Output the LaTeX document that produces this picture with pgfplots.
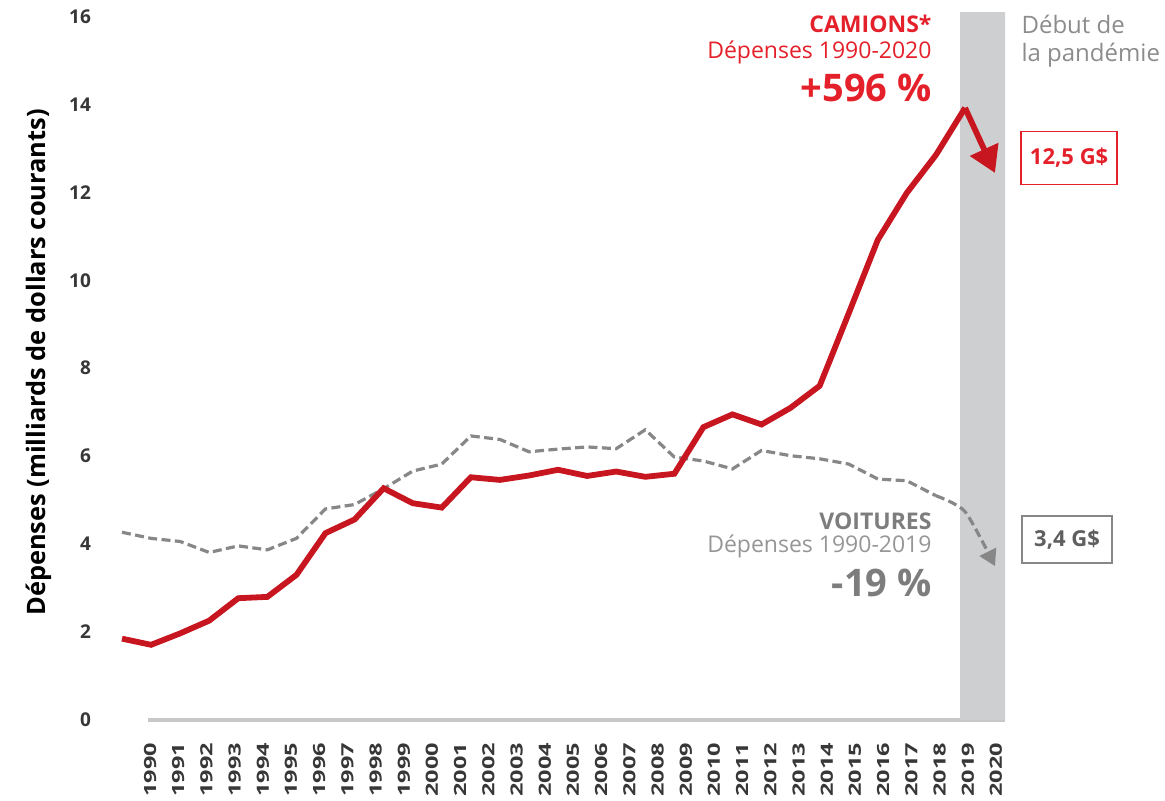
\documentclass[border=0pt]{standalone}
\usepackage{fontspec}
\setmainfont{Open Sans}
\usepackage{graphicx}
\usepackage{pgfplots}
\pgfplotsset{compat=1.18}
\usetikzlibrary{arrows.meta}

\definecolor{camred}{RGB}{200,22,32}
\definecolor{txtred}{RGB}{228,32,42}
\definecolor{cargray}{RGB}{135,135,135}
\definecolor{cartxt}{RGB}{125,125,125}
\definecolor{carlight}{RGB}{150,150,150}
\definecolor{bandgray}{RGB}{206,207,209}
\definecolor{axgray}{RGB}{200,200,200}
\definecolor{tickcol}{RGB}{55,55,55}
\definecolor{pandtxt}{RGB}{140,140,140}

\pgfplotstableread{
year val
1990 1.85
1991 1.71
1992 1.97
1993 2.26
1994 2.77
1995 2.80
1996 3.30
1997 4.25
1998 4.56
1999 5.27
2000 4.93
2001 4.83
2002 5.52
2003 5.46
2004 5.56
2005 5.69
2006 5.55
2007 5.65
2008 5.53
2009 5.60
2010 6.66
2011 6.95
2012 6.72
2013 7.10
2014 7.60
2015 9.25
2016 10.92
2017 11.99
2018 12.85
2019 13.92
}\camions

\pgfplotstableread{
year val
1990 4.27
1991 4.13
1992 4.06
1993 3.81
1994 3.96
1995 3.87
1996 4.13
1997 4.80
1998 4.90
1999 5.26
2000 5.66
2001 5.82
2002 6.46
2003 6.38
2004 6.10
2005 6.16
2006 6.21
2007 6.17
2008 6.60
2009 5.98
2010 5.89
2011 5.71
2012 6.13
2013 6.01
2014 5.94
2015 5.82
2016 5.48
2017 5.44
2018 5.10
}\voitures

\begin{document}
\begin{tikzpicture}
\begin{axis}[
  scale only axis,
  width=428.5pt, height=354pt,
  xmin=1990.894, xmax=2020.375,
  ymin=0, ymax=16.1,
  axis x line=bottom, axis y line=left,
  axis line style={-},
  x axis line style={draw=axgray, line width=2pt},
  y axis line style={draw=none},
  major tick length=0pt,
  tick style={draw=none},
  ytick={0,2,...,16},
  xtick={1990.963,1991.933,...,2020.2},
  xticklabel={\scalebox{1.4}[1]{\pgfmathparse{int(1990+\ticknum)}\pgfmathresult}},
  xticklabel style={rotate=90, anchor=east, font=\bfseries\fontsize{8.4}{9}\selectfont, text=tickcol},
  xticklabel shift=8pt,
  /pgf/number format/assume math mode=true,
  yticklabel style={font=\bfseries\fontsize{9.5}{10}\selectfont, text=tickcol, xshift=-25pt},
  ylabel={Dépenses (milliards de dollars courants)},
  ylabel style={at={(axis description cs:-0.127,0.505)}, anchor=center, font=\bfseries\fontsize{12.7}{13}\selectfont, text=black},
  clip=false,
]
% pandemic band
\addplot[draw=none, fill=bandgray] coordinates {(2018.83,0) (2018.83,16.1) (2020.375,16.1) (2020.375,0)} \closedcycle;

% voitures
\addplot[cargray, line width=1.6pt, dash pattern=on 4.5pt off 2.2pt] table[x=year, y=val] {\voitures};
\addplot[cargray, line width=1.6pt, dash pattern=on 4.5pt off 2.2pt, smooth, tension=0.4,
  -{Triangle[length=8pt,width=9pt]}] coordinates {(2018,5.10) (2019,4.74) (2020.03,3.5)};

% camions
\addplot[camred, line width=2.9pt, line join=miter] table[x=year, y=val] {\camions};
\addplot[camred, line width=2.9pt, -{Triangle[length=13pt,width=15pt]}] coordinates {(2019,13.92) (2020.03,12.44)};

% annotations camions
\node[anchor=base east, inner sep=0pt, text=txtred, font=\bfseries\fontsize{11.5}{12}\selectfont] at (axis cs:2017.86,15.63) {CAMIONS*};
\node[anchor=base east, inner sep=0pt, text=txtred, font=\fontsize{11.5}{12}\selectfont] at (axis cs:2017.86,15.04) {Dépenses 1990-2020};
\node[anchor=base east, inner sep=0pt, text=txtred, font=\bfseries\fontsize{19}{20}\selectfont] at (axis cs:2017.86,14.06) {+596~\%};

% annotations voitures
\node[anchor=base east, inner sep=0pt, text=cartxt, font=\bfseries\fontsize{11.5}{12}\selectfont] at (axis cs:2017.86,4.34) {VOITURES};
\node[anchor=base east, inner sep=0pt, text=carlight, font=\fontsize{11.5}{12}\selectfont] at (axis cs:2017.86,3.81) {Dépenses 1990-2019};
\node[anchor=base east, inner sep=0pt, text=cartxt, font=\bfseries\fontsize{19}{20}\selectfont] at (axis cs:2017.86,2.82) {-19~\%};

% pandemic label
\node[anchor=base west, inner sep=0pt, text=pandtxt, font=\fontsize{12}{13}\selectfont] at (axis cs:2020.93,15.61) {Début de};
\node[anchor=base west, inner sep=0pt, text=pandtxt, font=\fontsize{12}{13}\selectfont] at (axis cs:2020.93,14.97) {la pandémie};

% value boxes
\node[draw=txtred, line width=0.9pt, minimum width=48pt, minimum height=26.5pt, inner sep=0pt, text=txtred, font=\bfseries\fontsize{11}{12}\selectfont] at (axis cs:2022.58,12.78) {12,5 G\$};
\node[draw=cargray, line width=0.9pt, minimum width=45pt, minimum height=23.5pt, inner sep=0pt, text=tickcol!80, font=\bfseries\fontsize{11}{12}\selectfont] at (axis cs:2022.51,4.11) {3,4 G\$};
\end{axis}
\pgfresetboundingbox
\path (current axis.south west) ++(-74pt,-40pt) coordinate (bl);
\path (bl) rectangle ++(582.5pt,400pt);
\end{tikzpicture}
\end{document}
